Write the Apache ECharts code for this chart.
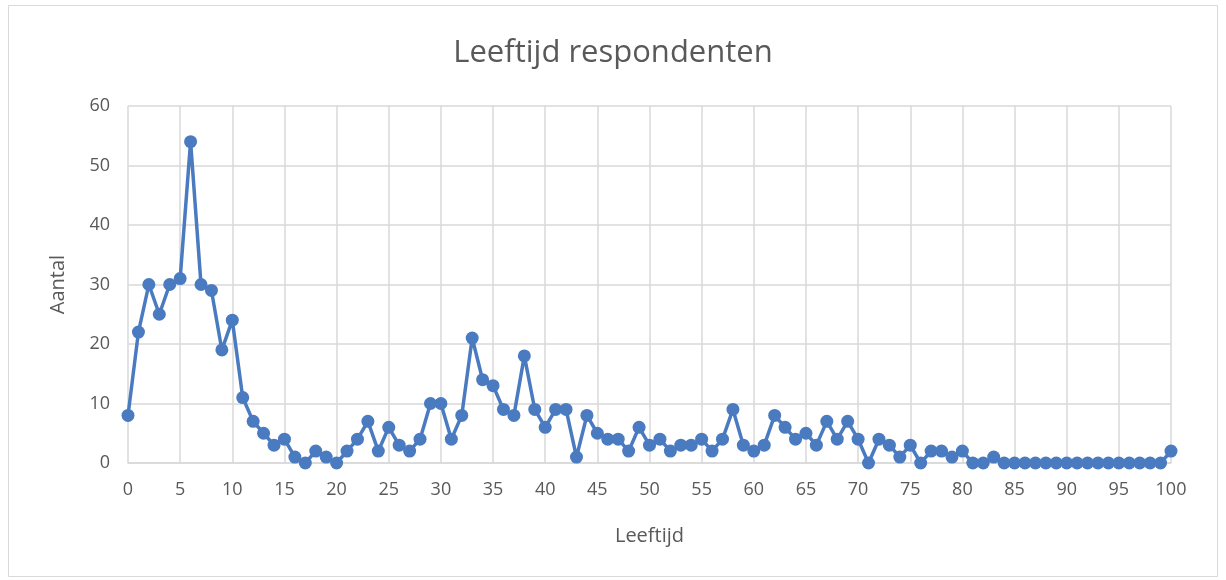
<!DOCTYPE html>
<html>
<head>
<meta charset="utf-8">
<script src="https://cdn.jsdelivr.net/npm/echarts@6/dist/echarts.min.js"></script>
<style>
html, body { margin: 0; padding: 0; background: #fff; }
#chart { width: 1226px; height: 580px; }
</style>
</head>
<body>
<div id="chart"></div>
<script>
var ages = [0,1,2,3,4,5,6,7,8,9,10,11,12,13,14,15,16,17,18,19,20,
    21,22,23,24,25,26,27,28,29,30,31,32,33,34,35,36,37,38,39,40,
    41,42,43,44,45,46,47,48,49,50,51,52,53,54,55,56,57,58,59,60,
    61,62,63,64,65,66,67,68,69,70,71,72,73,74,75,76,77,78,79,80,
    81,82,83,84,85,86,87,88,89,90,91,92,93,94,95,96,97,98,99,100];
var aantal = [8,22,30,25,30,31,54,30,29,19,24,11,7,5,3,4,1,0,2,1,0,
    2,4,7,2,6,3,2,4,10,10,4,8,21,14,13,9,8,18,9,6,
    9,9,1,8,5,4,4,2,6,3,4,2,3,3,4,2,4,9,3,2,
    3,8,6,4,5,3,7,4,7,4,0,4,3,1,3,0,2,2,1,2,
    0,0,1,0,0,0,0,0,0,0,0,0,0,0,0,0,0,0,0,2];
var yTicks = [0, 60, 10];

var chart = echarts.init(document.getElementById('chart'));
var option = {
    backgroundColor: '#fff',
    textStyle: { fontFamily: 'Open Sans' },
    graphic: [{
        type: 'rect',
        shape: { x: 8.5, y: 5.5, width: 1209, height: 571 },
        style: { fill: 'none', stroke: '#d9d9d9', lineWidth: 1 },
        silent: true
    }],
    title: {
        text: 'Leeftijd respondenten',
        left: 'center',
        top: 33,
        textStyle: { fontSize: 31, fontWeight: 'normal', color: '#595959', fontFamily: 'Open Sans' }
    },
    grid: { left: 128, right: 55, top: 106, bottom: 117 },
    xAxis: {
        type: 'category',
        data: ages,
        boundaryGap: false,
        name: 'Leeftijd',
        nameLocation: 'middle',
        nameGap: 63,
        nameTextStyle: { fontSize: 20, color: '#595959' },
        axisLine: { lineStyle: { color: '#d9d9d9', width: 1.5 } },
        axisTick: { show: false },
        axisLabel: { interval: 4, fontSize: 18, color: '#595959', margin: 18 },
        splitLine: { show: true, interval: 4, lineStyle: { color: '#d9d9d9', width: 1.5 } }
    },
    yAxis: {
        type: 'value',
        min: yTicks[0],
        max: yTicks[1],
        interval: yTicks[2],
        name: 'Aantal',
        nameLocation: 'middle',
        nameGap: 60,
        nameTextStyle: { fontSize: 20, color: '#595959' },
        axisLine: { show: false },
        axisTick: { show: false },
        axisLabel: { fontSize: 18, color: '#595959', margin: 18 },
        splitLine: { lineStyle: { color: '#d9d9d9', width: 1.5 } }
    },
    series: [{
        type: 'line',
        data: aantal,
        symbol: 'circle',
        symbolSize: 13,
        showAllSymbol: true,
        lineStyle: { color: '#4a7bc0', width: 3.5 },
        itemStyle: { color: '#4a7bc0' },
        animation: false
    }]
};
chart.setOption(option);
</script>
</body>
</html>
